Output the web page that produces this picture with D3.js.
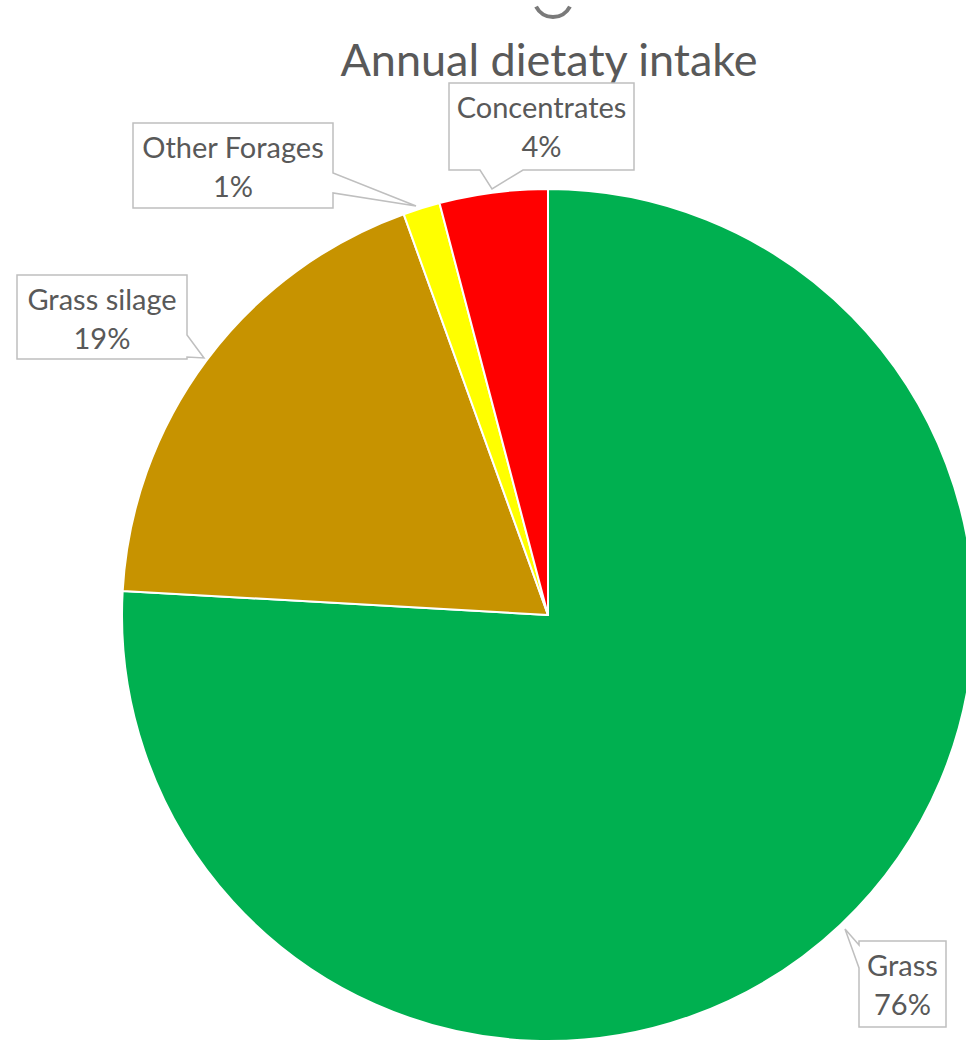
<!DOCTYPE html>
<html>
<head>
<meta charset="utf-8">
<script src="https://cdn.jsdelivr.net/npm/d3@7"></script>
<style>
  body { margin: 0; background: #fff; }
  svg { display: block; }
</style>
</head>
<body>
<div id="chart"></div>
<script>
// data
var categories = ['Grass', 'Grass silage', 'Other Forages', 'Concentrates'];
var values = [75.9, 18.6, 1.4, 4.1];
var colors = ['#00B050', '#C79300', '#FFFF00', '#FF0000'];
var title = 'Annual dietaty intake';

var width = 966, height = 1042;
var cx = 548, cy = 615, radius = 426;

// callout boxes (layout only)
var callouts = {
  'Grass':         {x: 859, y: 941, w: 87,  h: 86, side: 'left',   a: 945, b: 968, tip: [845, 929]},
  'Grass silage':  {x: 17,  y: 275, w: 170, h: 84, side: 'right',  a: 335, b: 357, tip: [204, 358]},
  'Other Forages': {x: 133, y: 123, w: 200, h: 85, side: 'right',  a: 173, b: 193, tip: [416, 206]},
  'Concentrates':  {x: 449, y: 83,  w: 185, h: 87, side: 'bottom', a: 480, b: 523, tip: [492, 189]}
};

var svg = d3.select('#chart')
            .append('svg')
            .attr('width', width)
            .attr('height', height)

var data = categories.map(function (c, i) { return {name: c, value: values[i], color: colors[i]}; });
var total = d3.sum(values);

var pie = d3.pie().sort(null).value(function (d) { return d.value; });
var arc = d3.arc().innerRadius(0).outerRadius(radius);

svg.append('g')
    .attr('transform', `translate(${cx},${cy})`)
    .selectAll('path')
    .data(pie(data))
    .join('path')
    .attr('d', arc)
    .attr('fill', function (d) { return d.data.color; })
    .attr('stroke', '#fff')
    .attr('stroke-width', 2)
    .attr('stroke-linejoin', 'round')

// bit of a cut-off glyph above the title
var p = d3.path();
p.arc(553, -2, 19, 0.15 * Math.PI, 0.85 * Math.PI);
svg.append('path')
    .attr('d', p.toString())
    .attr('fill', 'none')
    .attr('stroke', '#7a7a7a')
    .attr('stroke-width', 4)

svg.append('text')
    .attr('x', 549)
    .attr('y', 76)
    .attr('text-anchor', 'middle')
    .style('font-family', 'Lato, sans-serif')
    .style('font-size', '45px')
    .style('fill', '#595959')
    .text(title)

function calloutPath(c) {
    var x0 = c.x, y0 = c.y, x1 = c.x + c.w, y1 = c.y + c.h;
    var pts = [[x0, y0]];
    if (c.side === 'top') pts.push([c.a, y0], c.tip, [c.b, y0]);
    pts.push([x1, y0]);
    if (c.side === 'right') pts.push([x1, c.a], c.tip, [x1, c.b]);
    pts.push([x1, y1]);
    if (c.side === 'bottom') pts.push([c.b, y1], c.tip, [c.a, y1]);
    pts.push([x0, y1]);
    if (c.side === 'left') pts.push([x0, c.b], c.tip, [x0, c.a]);
    return 'M' + pts.map(function (q) { return q.join(','); }).join('L') + 'Z';
}

var fmt = d3.format('.0%');

var labels = svg.append('g')
    .selectAll('g')
    .data(data)
    .join('g')

labels.append('path')
    .attr('d', function (d) { return calloutPath(callouts[d.name]); })
    .attr('fill', '#fff')
    .attr('stroke', '#BFBFBF')
    .attr('stroke-width', 1.5)

labels.append('text')
    .attr('x', function (d) { return callouts[d.name].x + callouts[d.name].w / 2; })
    .attr('y', function (d) { return callouts[d.name].y + 35; })
    .attr('text-anchor', 'middle')
    .style('font-family', 'Lato, sans-serif')
    .style('font-size', '29px')
    .style('fill', '#595959')
    .text(function (d) { return d.name; })

labels.append('text')
    .attr('x', function (d) { return callouts[d.name].x + callouts[d.name].w / 2; })
    .attr('y', function (d) { return callouts[d.name].y + 74; })
    .attr('text-anchor', 'middle')
    .style('font-family', 'Lato, sans-serif')
    .style('font-size', '29px')
    .style('fill', '#595959')
    .text(function (d) { return fmt(d.value / total); })
</script>
</body>
</html>
